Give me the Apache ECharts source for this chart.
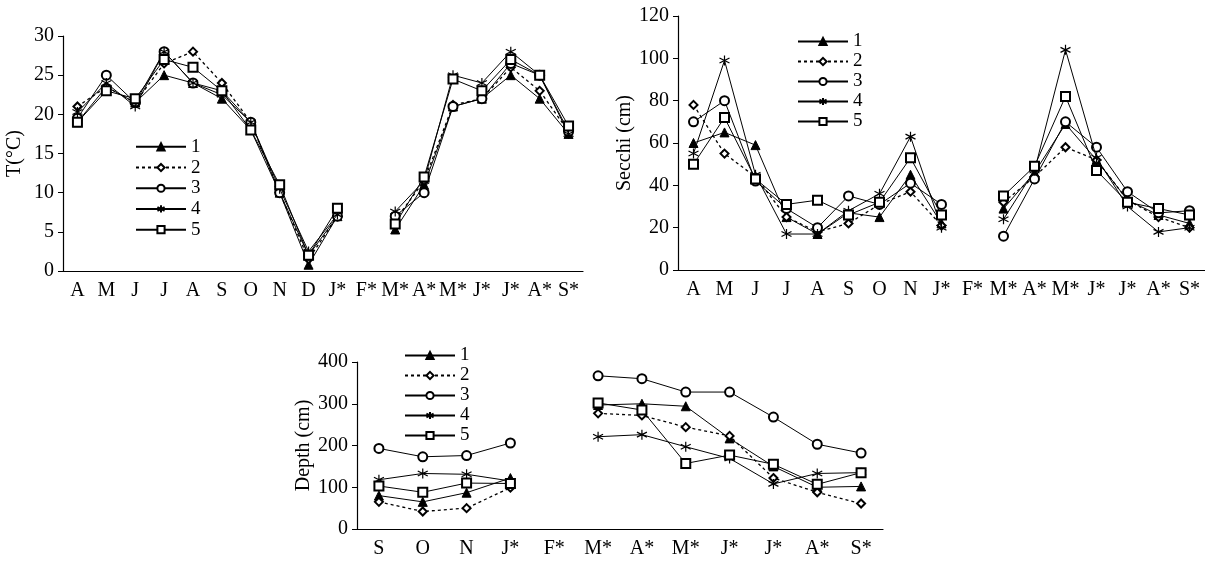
<!DOCTYPE html>
<html>
<head>
<meta charset="utf-8">
<script src="https://cdn.jsdelivr.net/npm/echarts@6/dist/echarts.min.js"></script>
<style>
html, body { margin: 0; padding: 0; background: #fff; }
#chart { width: 1205px; height: 566px; }
</style>
</head>
<body>
<div id="chart"></div>
<script>
// month labels (* = second year)
var tempMonths = ['A', 'M', 'J', 'J', 'A', 'S', 'O', 'N', 'D', 'J*', 'F*', 'M*', 'A*', 'M*', 'J*', 'J*', 'A*', 'S*']
var secchiMonths = ['A', 'M', 'J', 'J', 'A', 'S', 'O', 'N', 'J*', 'F*', 'M*', 'A*', 'M*', 'J*', 'J*', 'A*', 'S*']
var depthMonths = ['S', 'O', 'N', 'J*', 'F*', 'M*', 'A*', 'M*', 'J*', 'J*', 'A*', 'S*']

// temperature (°C), stations 1..5
var temp1 = [19, 23.5, 21.5, 25, 24, 22, 18, 10, 0.8, 7, null, 5.3, 11, 21, 22, 25, 22, 17.5]
var temp2 = [21, 23.5, 21.5, 26.5, 28, 24, 19, 10, 1.5, 7, null, 6.5, 11.5, 21.2, 22, 26, 23, 17.8]
var temp3 = [19.5, 25, 21.5, 28, 24, 23, 19, 10, 2, 7, null, 7, 10, 21, 22, 26.5, 25, 17.8]
var temp4 = [20.3, 24, 21, 28, 24, 22.5, 19, 10.5, 2.5, 7.2, null, 7.6, 11.5, 25, 24, 28, 25, 17.5]
var temp5 = [19, 23, 22, 27, 26, 23, 18, 11, 2, 8, null, 6, 12, 24.5, 23, 27, 25, 18.5]

// Secchi depth (cm)
var secchi1 = [60, 65, 59, 25, 17, 27, 25, 45, 22, null, 29, 46, 69, 52, 33, 26, 22]
var secchi2 = [78, 55, 44, 25, 18, 22, 31, 37, 21, null, 32, 44, 58, 52, 33, 25, 20]
var secchi3 = [70, 80, 42, 29, 20, 35, 31, 41, 31, null, 16, 43, 70, 58, 37, 27, 28]
var secchi4 = [55, 99, 45, 17, 17, 28, 36, 63, 20, null, 24, 47, 104, 53, 30, 18, 20]
var secchi5 = [50, 72, 43, 31, 33, 26, 32, 53, 26, null, 35, 49, 82, 47, 32, 29, 26]

// water depth (cm)
var depth1 = [80, 65, 87, 122, null, 297, 300, 294, 217, 150, 100, 102]
var depth2 = [65, 42, 50, 99, null, 277, 272, 244, 223, 122, 88, 61]
var depth3 = [193, 173, 176, 206, null, 367, 360, 328, 328, 268, 203, 182]
var depth4 = [118, 133, 131, 115, null, 221, 226, 197, 169, 108, 133, 135]
var depth5 = [103, 88, 110, 109, null, 302, 285, 157, 177, 155, 107, 135]

var serif = 'Liberation Serif'
var asterisk = 'path://M5,0L5,10M0.67,2.5L9.33,7.5M0.67,7.5L9.33,2.5'

var styles = [
  { symbol: 'triangle', symbolSize: 9, itemStyle: { color: '#000', borderColor: '#000', borderWidth: 1 }, lineStyle: { color: '#000', width: 1 } },
  { symbol: 'emptyDiamond', symbolSize: 8, itemStyle: { color: '#000', borderColor: '#000', borderWidth: 1 }, lineStyle: { color: '#000', width: 1.3, type: [3, 3] } },
  { symbol: 'emptyCircle', symbolSize: 9, itemStyle: { color: '#000', borderColor: '#000', borderWidth: 1 }, lineStyle: { color: '#000', width: 1 } },
  { symbol: asterisk, symbolSize: 10, itemStyle: { color: '#000', borderColor: '#000', borderWidth: 1.2 }, lineStyle: { color: '#000', width: 1 } },
  { symbol: 'emptyRect', symbolSize: 9, itemStyle: { color: '#000', borderColor: '#000', borderWidth: 1 }, lineStyle: { color: '#000', width: 1 } }
]

function makeSeries(idx, list) {
  var out = []
  for (var i = 0; i < list.length; i++) {
    var s = styles[i]
    out.push({
      name: String(i + 1),
      type: 'line',
      xAxisIndex: idx,
      yAxisIndex: idx,
      data: list[i],
      symbol: s.symbol,
      symbolSize: s.symbolSize,
      itemStyle: s.itemStyle,
      lineStyle: s.lineStyle,
      connectNulls: false,
      z: 2 + i
    })
  }
  return out
}

function xAxis(idx, cats) {
  return {
    type: 'category',
    gridIndex: idx,
    data: cats,
    boundaryGap: true,
    axisLine: { lineStyle: { color: '#000', width: 1.2 } },
    axisTick: { lineStyle: { color: '#000' }, length: 5 },
    axisLabel: { color: '#000', fontFamily: serif, fontSize: 20, margin: 10, interval: 0 }
  }
}

function yAxis(idx, name, max, step, gap) {
  return {
    type: 'value',
    gridIndex: idx,
    min: 0,
    max: max,
    interval: step,
    name: name,
    nameLocation: 'middle',
    nameGap: gap,
    nameTextStyle: { color: '#000', fontFamily: serif, fontSize: 20 },
    splitLine: { show: false },
    axisLine: { show: true, lineStyle: { color: '#000', width: 1.2 } },
    axisTick: { show: true, lineStyle: { color: '#000' }, length: 5 },
    axisLabel: { color: '#000', fontFamily: serif, fontSize: 20, margin: 9 }
  }
}

function legend(left, top, rowH) {
  return {
    orient: 'vertical',
    left: left,
    top: top,
    padding: 0,
    itemWidth: 50,
    itemHeight: 9,
    itemGap: 1,
    data: ['1', '2', '3', '4', '5'],
    textStyle: { color: '#000', fontFamily: serif, fontSize: 19, lineHeight: rowH }
  }
}

var chart = echarts.init(document.getElementById('chart'))
chart.setOption({
  animation: false,
  backgroundColor: '#fff',
  grid: [
    { left: 63, top: 36, width: 520, height: 235 },
    { left: 678, top: 16, width: 527, height: 254 },
    { left: 357, top: 362, width: 526, height: 167 }
  ],
  legend: [legend(135, 137, 19.7), legend(797, 32, 18.5), legend(404, 346, 18.5)],
  xAxis: [xAxis(0, tempMonths), xAxis(1, secchiMonths), xAxis(2, depthMonths)],
  yAxis: [
    yAxis(0, 'T(°C)', 30, 5, 38),
    yAxis(1, 'Secchi (cm)', 120, 20, 40),
    yAxis(2, 'Depth (cm)', 400, 100, 42)
  ],
  series: [].concat(
    makeSeries(0, [temp1, temp2, temp3, temp4, temp5]),
    makeSeries(1, [secchi1, secchi2, secchi3, secchi4, secchi5]),
    makeSeries(2, [depth1, depth2, depth3, depth4, depth5])
  )
})
</script>
</body>
</html>
